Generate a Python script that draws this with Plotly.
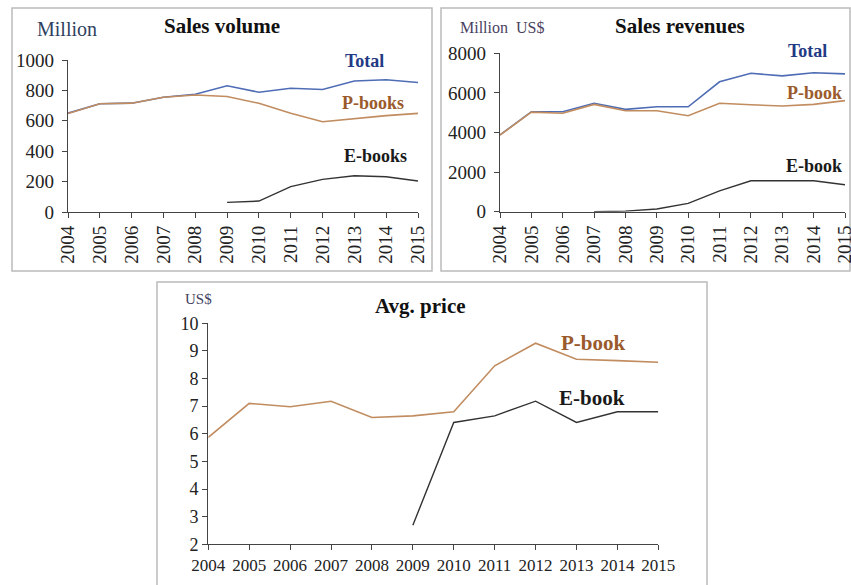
import plotly.graph_objects as go

W, H = 851, 585

years = list(range(2004, 2016))
year_labels = [str(y) for y in years]

# Sales volume (million)
vol_total = [650, 712, 716, 755, 775, 830, 788, 814, 806, 862, 870, 852]
vol_pbook = [648, 712, 716, 755, 770, 760, 715, 650, 594, 616, 634, 649]
vol_ebook_years = [2009, 2010, 2011, 2012, 2013, 2014, 2015]
vol_ebook = [63, 72, 167, 215, 238, 232, 204]

# Sales revenues (million US$)
rev_total = [3880, 5050, 5050, 5480, 5170, 5300, 5300, 6560, 6990, 6860, 7020, 6960]
rev_pbook = [3870, 5030, 4970, 5420, 5100, 5100, 4850, 5480, 5400, 5340, 5420, 5610]
rev_ebook_years = [2007, 2008, 2009, 2010, 2011, 2012, 2013, 2014, 2015]
rev_ebook = [0, 30, 140, 420, 1050, 1560, 1560, 1560, 1360]

# Avg. price (US$)
price_pbook = [5.87, 7.10, 6.98, 7.18, 6.59, 6.65, 6.80, 8.46, 9.28, 8.70, 8.65, 8.59]
price_ebook_years = [2009, 2010, 2011, 2012, 2013, 2014, 2015]
price_ebook = [2.69, 6.41, 6.65, 7.18, 6.41, 6.80, 6.80]

C_TOTAL = "#4f6db5"
C_PBOOK = "#c18c5f"
C_EBOOK = "#333333"
T_TOTAL = "#233a85"
T_PBOOK = "#9a5a2c"
T_EBOOK = "#1a1a1a"
FONT = "Liberation Serif"


def px(x):
    return x / W


def py(y):
    return 1 - y / H


fig = go.Figure()

# Panel 1
fig.add_trace(go.Scatter(x=years, y=vol_total, mode="lines", line=dict(color=C_TOTAL, width=1.6), xaxis="x", yaxis="y"))
fig.add_trace(go.Scatter(x=years, y=vol_pbook, mode="lines", line=dict(color=C_PBOOK, width=1.6), xaxis="x", yaxis="y"))
fig.add_trace(go.Scatter(x=vol_ebook_years, y=vol_ebook, mode="lines", line=dict(color=C_EBOOK, width=1.4), xaxis="x", yaxis="y"))
# Panel 2
fig.add_trace(go.Scatter(x=years, y=rev_total, mode="lines", line=dict(color=C_TOTAL, width=1.6), xaxis="x2", yaxis="y2"))
fig.add_trace(go.Scatter(x=years, y=rev_pbook, mode="lines", line=dict(color=C_PBOOK, width=1.6), xaxis="x2", yaxis="y2"))
fig.add_trace(go.Scatter(x=rev_ebook_years, y=rev_ebook, mode="lines", line=dict(color=C_EBOOK, width=1.4), xaxis="x2", yaxis="y2"))
# Panel 3
fig.add_trace(go.Scatter(x=years, y=price_pbook, mode="lines", line=dict(color=C_PBOOK, width=1.6), xaxis="x3", yaxis="y3"))
fig.add_trace(go.Scatter(x=price_ebook_years, y=price_ebook, mode="lines", line=dict(color=C_EBOOK, width=1.4), xaxis="x3", yaxis="y3"))

axis_common = dict(showgrid=False, zeroline=False, showline=True, linecolor="#444444", linewidth=1.2,
                   ticks="outside", ticklen=5, tickcolor="#444444", tickwidth=1.2, automargin=False,
                   ticklabeloverflow="allow",
                   tickfont=dict(family=FONT, size=19, color="#222222"), fixedrange=True)

fig.update_layout(
    width=W, height=H, margin=dict(l=0, r=0, t=0, b=0, autoexpand=False),
    paper_bgcolor="white", plot_bgcolor="rgba(0,0,0,0)", showlegend=False,
    xaxis=dict(axis_common, domain=[px(68), px(418)], range=[2004, 2015], tickvals=years, ticktext=year_labels,
               tickangle=-90, anchor="y"),
    yaxis=dict(axis_common, domain=[py(212), py(60)], range=[0, 1000], tickvals=[0, 200, 400, 600, 800, 1000],
               anchor="x", ticklabelstandoff=4),
    xaxis2=dict(axis_common, domain=[px(500), px(845)], range=[2004, 2015], tickvals=years, ticktext=year_labels,
                tickangle=-90, anchor="y2"),
    yaxis2=dict(axis_common, domain=[py(211.7), py(53.3)], range=[0, 8000], tickvals=[0, 2000, 4000, 6000, 8000],
                anchor="x2", ticklabelstandoff=4),
    xaxis3=dict(axis_common, domain=[px(208.3), px(658.3)], range=[2004, 2015], tickvals=years, ticktext=year_labels,
                tickangle=0, anchor="y3", tickfont=dict(family=FONT, size=17, color="#222222")),
    yaxis3=dict(axis_common, domain=[py(544.3), py(323.3)], range=[2, 10], tickvals=list(range(2, 11)),
                anchor="x3", tickfont=dict(family=FONT, size=18, color="#222222")),
)

# Frames
for (x0, y0, x1, y1) in [(12, 8, 432, 271), (441, 8, 850, 271), (157, 282, 707, 590)]:
    fig.add_shape(type="rect", xref="paper", yref="paper", x0=px(x0), x1=px(x1), y0=py(y1), y1=py(y0),
                  line=dict(color="#bbbbbb", width=1.5), fillcolor="rgba(0,0,0,0)", layer="below")


def ann(text, x, y, size, color, bold=False, xanchor="center"):
    t = f"<b>{text}</b>" if bold else text
    fig.add_annotation(text=t, x=px(x), y=py(y), xref="paper", yref="paper", showarrow=False,
                       xanchor=xanchor, yanchor="middle", font=dict(family=FONT, size=size, color=color))


# Panel 1 texts
ann("Million", 35, 29, 20, "#2f3f5f", xanchor="left")
ann("Sales volume", 222, 26, 21, "#111111", bold=True)
ann("Total", 364, 61, 18, T_TOTAL, bold=True)
ann("P-books", 373, 103, 18, T_PBOOK, bold=True)
ann("E-books", 375, 156, 18, T_EBOOK, bold=True)

# Panel 2 texts
ann("Million  US$", 458, 27, 16, "#4a3f5f", xanchor="left")
ann("Sales revenues", 680, 26, 21, "#111111", bold=True)
ann("Total", 807, 51, 18, T_TOTAL, bold=True)
ann("P-book", 814, 93, 18, T_PBOOK, bold=True)
ann("E-book", 814, 166, 18, T_EBOOK, bold=True)

# Panel 3 texts
ann("US$", 183, 299, 15, "#3f3f5f", xanchor="left")
ann("Avg. price", 420, 306, 21, "#111111", bold=True)
ann("P-book", 593, 343, 21, T_PBOOK, bold=True)
ann("E-book", 592, 398, 21, T_EBOOK, bold=True)

fig.write_html("out.html", config={"displayModeBar": False},
               post_script="document.body.style.margin='0';")
